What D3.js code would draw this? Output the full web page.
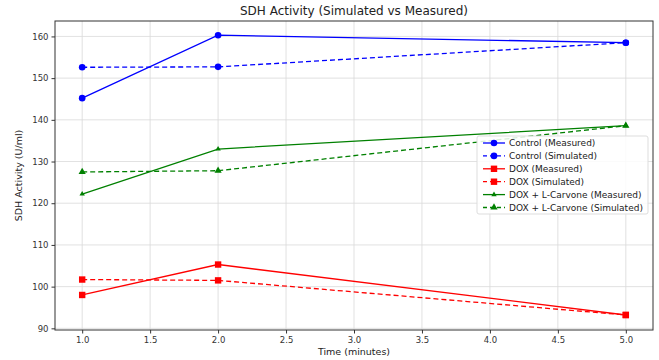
<!DOCTYPE html>
<html>
<head>
<meta charset="utf-8">
<script src="https://cdn.jsdelivr.net/npm/d3@7"></script>
<style>
  body { margin: 0; background: #fff; }
  svg { display: block; font-family: "DejaVu Sans", sans-serif; }
</style>
</head>
<body>
<div id="chart"></div>
<script>
// time points (minutes)
const times = [1, 2, 5];

// SDH activity values (U/ml)
const controlMeasured = [145.2, 160.3, 158.5];
const controlSimulated = [152.6, 152.7, 158.5];
const doxMeasured = [98.0, 105.3, 93.2];
const doxSimulated = [101.7, 101.5, 93.2];
const carvoneMeasured = [122.2, 133.0, 138.6];
const carvoneSimulated = [127.5, 127.8, 138.6];

const xTicks = [1.0, 1.5, 2.0, 2.5, 3.0, 3.5, 4.0, 4.5, 5.0];
const yTicks = [90, 100, 110, 120, 130, 140, 150, 160];

const series = [
  { name: "Control (Measured)", values: controlMeasured, color: "#0000ff", dash: false, marker: "circle" },
  { name: "Control (Simulated)", values: controlSimulated, color: "#0000ff", dash: true, marker: "circle" },
  { name: "DOX (Measured)", values: doxMeasured, color: "#ff0000", dash: false, marker: "square" },
  { name: "DOX (Simulated)", values: doxSimulated, color: "#ff0000", dash: true, marker: "square" },
  { name: "DOX + L-Carvone (Measured)", values: carvoneMeasured, color: "#008000", dash: false, marker: "triangle" },
  { name: "DOX + L-Carvone (Simulated)", values: carvoneSimulated, color: "#008000", dash: true, marker: "triangle" }
];

const width = 659, height = 360;
const margin = { top: 21, right: 6, bottom: 30, left: 55 };

const x = d3.scaleLinear().domain([0.8, 5.2]).range([margin.left, width - margin.right]);
const y = d3.scaleLinear().domain([89.6, 163.7]).range([height - margin.bottom, margin.top]);

const svg = d3.select("#chart").append("svg")
  .attr("width", width)
  .attr("height", height);

// grid
svg.append("g")
  .attr("stroke", "#d9d9d9")
  .attr("stroke-width", 0.8)
  .call(g => g.selectAll("line.v").data(xTicks).join("line")
    .attr("x1", d => x(d)).attr("x2", d => x(d))
    .attr("y1", margin.top).attr("y2", height - margin.bottom))
  .call(g => g.selectAll("line.h").data(yTicks).join("line")
    .attr("x1", margin.left).attr("x2", width - margin.right)
    .attr("y1", d => y(d)).attr("y2", d => y(d)));

// axes
const xAxis = svg.append("g")
  .attr("transform", `translate(0,${height - margin.bottom})`)
  .call(d3.axisBottom(x).tickValues(xTicks).tickFormat(d3.format(".1f")).tickSize(3.5).tickPadding(3));
const yAxis = svg.append("g")
  .attr("transform", `translate(${margin.left},0)`)
  .call(d3.axisLeft(y).tickValues(yTicks).tickSize(3.5).tickPadding(3));

[xAxis, yAxis].forEach(a => {
  a.select(".domain").remove();
  a.selectAll("text").attr("font-size", 8.5).attr("fill", "#333").attr("font-family", "DejaVu Sans, sans-serif");
  a.selectAll("line").attr("stroke", "#333");
});

// frame
svg.append("rect")
  .attr("x", margin.left).attr("y", margin.top)
  .attr("width", width - margin.left - margin.right)
  .attr("height", height - margin.top - margin.bottom)
  .attr("fill", "none").attr("stroke", "#333").attr("stroke-width", 1);

const line = d3.line().x((d, i) => x(times[i])).y(d => y(d));

function drawMarker(g, type, color, cx, cy, small) {
  if (type === "circle") {
    g.append("circle").attr("cx", cx).attr("cy", cy).attr("r", 3.3).attr("fill", color);
  } else if (type === "square") {
    g.append("rect").attr("x", cx - 3.2).attr("y", cy - 3.2).attr("width", 6.4).attr("height", 6.4).attr("fill", color);
  } else {
    const s = small ? 2.4 : 3.2;
    g.append("path")
      .attr("d", d3.symbol(d3.symbolTriangle, s * s * 2.2)())
      .attr("transform", `translate(${cx},${cy})`)
      .attr("fill", color);
  }
}

const plot = svg.append("g");
series.forEach(s => {
  plot.append("path")
    .attr("d", line(s.values))
    .attr("fill", "none")
    .attr("stroke", s.color)
    .attr("stroke-width", 1.3)
    .attr("stroke-dasharray", s.dash ? "5,3" : null);
  s.values.forEach((v, i) => drawMarker(plot, s.marker, s.color, x(times[i]), y(v), !s.dash));
});

// legend
const legend = svg.append("g").attr("transform", "translate(477,136)");
legend.append("rect")
  .attr("width", 171).attr("height", 78).attr("rx", 2)
  .attr("fill", "#fff").attr("fill-opacity", 0.85)
  .attr("stroke", "#ddd");
series.forEach((s, i) => {
  const ly = 7 + i * 12.9;
  legend.append("line")
    .attr("x1", 6).attr("x2", 28).attr("y1", ly).attr("y2", ly)
    .attr("stroke", s.color).attr("stroke-width", 1.3)
    .attr("stroke-dasharray", s.dash ? "4,3" : null);
  drawMarker(legend, s.marker, s.color, 17, ly, !s.dash);
  legend.append("text")
    .attr("x", 32).attr("y", ly).attr("dy", "0.35em")
    .attr("font-size", 9).attr("fill", "#222")
    .text(s.name);
});

// titles
svg.append("text")
  .attr("x", (margin.left + width - margin.right) / 2).attr("y", 15)
  .attr("text-anchor", "middle").attr("font-size", 12).attr("fill", "#222")
  .text("SDH Activity (Simulated vs Measured)");
svg.append("text")
  .attr("x", (margin.left + width - margin.right) / 2).attr("y", 355)
  .attr("text-anchor", "middle").attr("font-size", 9.5).attr("fill", "#222")
  .text("Time (minutes)");
svg.append("text")
  .attr("transform", `translate(22,${(margin.top + height - margin.bottom) / 2}) rotate(-90)`)
  .attr("text-anchor", "middle").attr("font-size", 9.5).attr("fill", "#222")
  .text("SDH Activity (U/ml)");
</script>
</body>
</html>
